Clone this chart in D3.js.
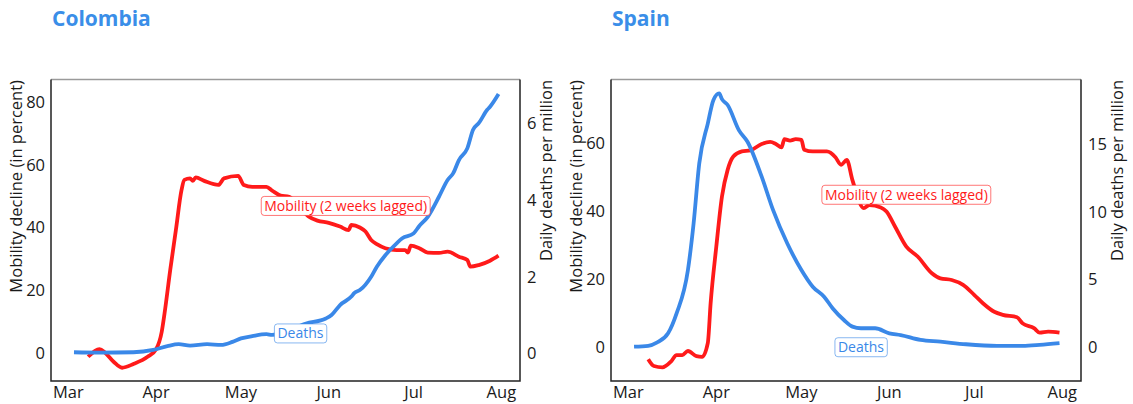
<!DOCTYPE html>
<html>
<head>
<meta charset="utf-8">
<script src="https://cdn.jsdelivr.net/npm/d3@7"></script>
<style>
  body { margin: 0; background: #fff; }
  svg { display: block; font-family: "Open Sans", "Noto Sans", sans-serif; }
  .tick-label { font-size: 16.5px; fill: #1a1a1a; }
  .axis-title { font-size: 16.5px; fill: #1a1a1a; }
  .panel-title { font-size: 21px; font-weight: bold; fill: #3a8ee8; }
  .tag { font-size: 14px; }
</style>
</head>
<body>
<div id="chart"></div>
<script>
var W = 1133, H = 404;

// x ticks (month starts)
var monthTicks = ["2020-03-01","2020-04-01","2020-05-01","2020-06-01","2020-07-01","2020-08-01"];
var monthLabels = ["Mar","Apr","May","Jun","Jul","Aug"];

// Colombia
var colMobDates = ["2020-03-08","2020-03-12","2020-03-14","2020-03-17","2020-03-20","2020-03-24","2020-03-29",
  "2020-04-01","2020-04-03","2020-04-04","2020-04-06","2020-04-08","2020-04-10","2020-04-11","2020-04-13",
  "2020-04-14","2020-04-15","2020-04-18","2020-04-23","2020-04-25","2020-04-30","2020-05-02","2020-05-05",
  "2020-05-10","2020-05-12","2020-05-15","2020-05-18","2020-05-22","2020-05-25","2020-05-28","2020-06-01",
  "2020-06-05","2020-06-08","2020-06-09","2020-06-12","2020-06-14","2020-06-16","2020-06-18","2020-06-21",
  "2020-06-25","2020-06-28","2020-06-29","2020-06-30","2020-07-03","2020-07-06","2020-07-10","2020-07-13",
  "2020-07-17","2020-07-20","2020-07-21","2020-07-24","2020-07-28","2020-07-31"];
var colMobility = [-1.3,1.1,0,-2.9,-4.8,-3.6,-1.3,
  1.1,6.7,12.6,26.4,39.2,52,55.2,55.7,
  54.9,56,54.9,53.6,55.7,56.5,53.6,53,
  53,51.8,50.2,49.8,46,43.5,42.2,41.5,
  40.3,39.2,40.8,40,38.7,36,34.7,33.4,
  32.8,32.8,32,34.2,33.4,32,31.9,32.3,
  30.7,29.6,27.5,28,29.4,31];

var colDeathDates = ["2020-03-03","2020-03-12","2020-03-24","2020-03-31","2020-04-05","2020-04-09","2020-04-13",
  "2020-04-19","2020-04-24","2020-04-28","2020-05-01","2020-05-05","2020-05-10","2020-05-12","2020-05-24",
  "2020-05-31","2020-06-02","2020-06-05","2020-06-09","2020-06-10","2020-06-12","2020-06-16","2020-06-18",
  "2020-06-21","2020-06-25","2020-06-27","2020-07-01","2020-07-03","2020-07-06","2020-07-10","2020-07-13",
  "2020-07-15","2020-07-17","2020-07-20","2020-07-22","2020-07-24","2020-07-27","2020-07-28","2020-07-31"];
var colDeaths = [0.03,0.02,0.03,0.09,0.19,0.24,0.2,
  0.24,0.22,0.3,0.39,0.45,0.5,0.48,0.78,
  0.91,1.0,1.26,1.48,1.57,1.65,2.0,2.26,
  2.56,2.87,3.0,3.13,3.32,3.56,4.09,4.52,
  4.7,5.04,5.35,5.83,6.0,6.35,6.43,6.76];

// Spain
var espMobDates = ["2020-03-08","2020-03-10","2020-03-13","2020-03-16","2020-03-18","2020-03-20","2020-03-22",
  "2020-03-25","2020-03-27","2020-03-29","2020-03-30","2020-04-01","2020-04-03","2020-04-05","2020-04-07",
  "2020-04-10","2020-04-13","2020-04-17","2020-04-20","2020-04-22","2020-04-24","2020-04-25","2020-04-27",
  "2020-04-29","2020-05-01","2020-05-02","2020-05-05","2020-05-10","2020-05-13","2020-05-15","2020-05-17",
  "2020-05-19","2020-05-23","2020-05-25","2020-05-29","2020-05-31","2020-06-03","2020-06-07","2020-06-11",
  "2020-06-16","2020-06-19","2020-06-23","2020-06-27","2020-07-01","2020-07-04","2020-07-08","2020-07-11",
  "2020-07-16","2020-07-18","2020-07-22","2020-07-24","2020-07-27","2020-07-31"];
var espMobility = [-3.5,-5.5,-5.9,-4.2,-2.3,-2.3,-1.1,
  -2.6,-2.8,1.2,12.9,29.5,44.2,52,55.9,
  57.4,57.7,59.6,60.2,59.6,58.6,61,60.6,
  61,60.8,57.9,57.4,57.4,55.7,53.5,54.9,
  49,40.8,41.7,41,39.8,35.4,29.5,26.6,
  21.7,20.2,19.7,18.3,15.3,12.9,10.4,9.5,
  8.8,7.0,5.6,4.3,4.6,4.3];

var espDeathDates = ["2020-03-03","2020-03-08","2020-03-11","2020-03-15","2020-03-18","2020-03-22","2020-03-24",
  "2020-03-26","2020-03-29","2020-03-31","2020-04-02","2020-04-03","2020-04-05","2020-04-09","2020-04-12",
  "2020-04-17","2020-04-21","2020-04-26","2020-05-01","2020-05-05","2020-05-09","2020-05-12","2020-05-16",
  "2020-05-19","2020-05-22","2020-05-27","2020-06-01","2020-06-05","2020-06-12","2020-06-19","2020-06-28",
  "2020-07-09","2020-07-18","2020-07-24","2020-07-31"];
var espDeaths = [0.04,0.1,0.34,1.03,2.5,5.7,9.14,
  13.57,16.5,18.24,18.73,18.3,17.87,16.0,15.16,
  12.58,10.13,7.67,5.7,4.47,3.73,2.88,2.01,
  1.52,1.4,1.4,1.03,0.9,0.54,0.41,0.22,
  0.1,0.1,0.17,0.3];

var parse = d3.timeParse("%Y-%m-%d");
var red = "#ff1a1a", blue = "#3a88e8";

var svg = d3.select("#chart").append("svg").attr("width", W).attr("height", H);

function panel(opt) {
  var x = d3.scaleTime()
    .domain([new Date(2020, 1, 23, 21), new Date(2020, 7, 7, 14)])
    .range([opt.left, opt.right]);
  var yL = d3.scaleLinear().domain(opt.leftDomain).range([381, 79.5]);
  var yR = d3.scaleLinear().domain(opt.rightDomain).range([381, 79.5]);

  var g = svg.append("g");

  g.append("text").attr("class", "panel-title")
    .attr("x", opt.left + 1).attr("y", 26).text(opt.title);

  // frame
  g.append("line").attr("x1", opt.left).attr("x2", opt.right).attr("y1", 79.5).attr("y2", 79.5)
    .attr("stroke", "#9a9a9a").attr("stroke-width", 1.3);
  g.append("path")
    .attr("d", "M" + opt.left + ",79.5V381H" + opt.right + "V79.5")
    .attr("fill", "none").attr("stroke", "#222").attr("stroke-width", 1.5);

  // ticks
  g.selectAll(".xt").data(monthTicks).enter().append("text")
    .attr("class", "tick-label")
    .attr("x", d => x(parse(d))).attr("y", 398)
    .attr("text-anchor", "middle")
    .text((d, i) => monthLabels[i]);

  g.selectAll(".yl").data(opt.leftTicks).enter().append("text")
    .attr("class", "tick-label")
    .attr("x", opt.left - 6).attr("y", d => yL(d))
    .attr("dy", "0.36em").attr("text-anchor", "end")
    .text(d => d);

  g.selectAll(".yr").data(opt.rightTicks).enter().append("text")
    .attr("class", "tick-label")
    .attr("x", opt.right + 7).attr("y", d => yR(d))
    .attr("dy", "0.36em").attr("text-anchor", "start")
    .text(d => d);

  g.append("text").attr("class", "axis-title")
    .attr("transform", "translate(" + (opt.left - 29.5) + ",80) rotate(-90)")
    .attr("text-anchor", "end").text("Mobility decline (in percent)");
  g.append("text").attr("class", "axis-title")
    .attr("transform", "translate(" + (opt.right + opt.rightTitleOff) + ",80) rotate(-90)")
    .attr("text-anchor", "end").text("Daily deaths per million");

  var lineL = d3.line().curve(d3.curveMonotoneX).x(d => x(d[0])).y(d => yL(d[1]));
  var lineR = d3.line().curve(d3.curveMonotoneX).x(d => x(d[0])).y(d => yR(d[1]));

  var mob = opt.mobDates.map((d, i) => [parse(d), opt.mobility[i]]);
  var dea = opt.deathDates.map((d, i) => [parse(d), opt.deaths[i]]);

  g.append("path").attr("d", lineL(mob))
    .attr("fill", "none").attr("stroke", red).attr("stroke-width", 3.8)
    .attr("stroke-linejoin", "round");
  g.append("path").attr("d", lineR(dea))
    .attr("fill", "none").attr("stroke", blue).attr("stroke-width", 3.8)
    .attr("stroke-linejoin", "round");

  // labels
  function tag(px, py, txt, col) {
    var t = g.append("g");
    var tx = t.append("text").attr("class", "tag")
      .attr("x", px).attr("y", py).attr("dy", "0.35em")
      .attr("text-anchor", "middle").attr("fill", col).text(txt);
    var bb = tx.node().getBBox();
    t.insert("rect", "text")
      .attr("x", bb.x - 3).attr("y", py - 9.5)
      .attr("width", bb.width + 6).attr("height", 19)
      .attr("rx", 3)
      .attr("fill", "#fff").attr("stroke", col).attr("stroke-opacity", 0.6);
  }
  tag(x(parse(opt.mobTag[0])), yL(opt.mobTag[1]), "Mobility (2 weeks lagged)", red);
  tag(x(parse(opt.deathTag[0])), yR(opt.deathTag[1]), "Deaths", blue);
}

panel({
  title: "Colombia", left: 51, right: 520,
  leftDomain: [-9.04, 87.3], rightDomain: [-0.72, 7.14],
  leftTicks: [0, 20, 40, 60, 80], rightTicks: [0, 2, 4, 6],
  rightTitleOff: 32,
  mobDates: colMobDates, mobility: colMobility,
  deathDates: colDeathDates, deaths: colDeaths,
  mobTag: ["2020-06-07", 46.9], deathTag: ["2020-05-22", 0.52]
});

panel({
  title: "Spain", left: 611, right: 1081,
  leftDomain: [-9.9, 78.5], rightDomain: [-2.49, 19.75],
  leftTicks: [0, 20, 40, 60], rightTicks: [0, 5, 10, 15],
  rightTitleOff: 42,
  mobDates: espMobDates, mobility: espMobility,
  deathDates: espDeathDates, deaths: espDeaths,
  mobTag: ["2020-06-07", 44.7], deathTag: ["2020-05-22", 0]
});
</script>
</body>
</html>
